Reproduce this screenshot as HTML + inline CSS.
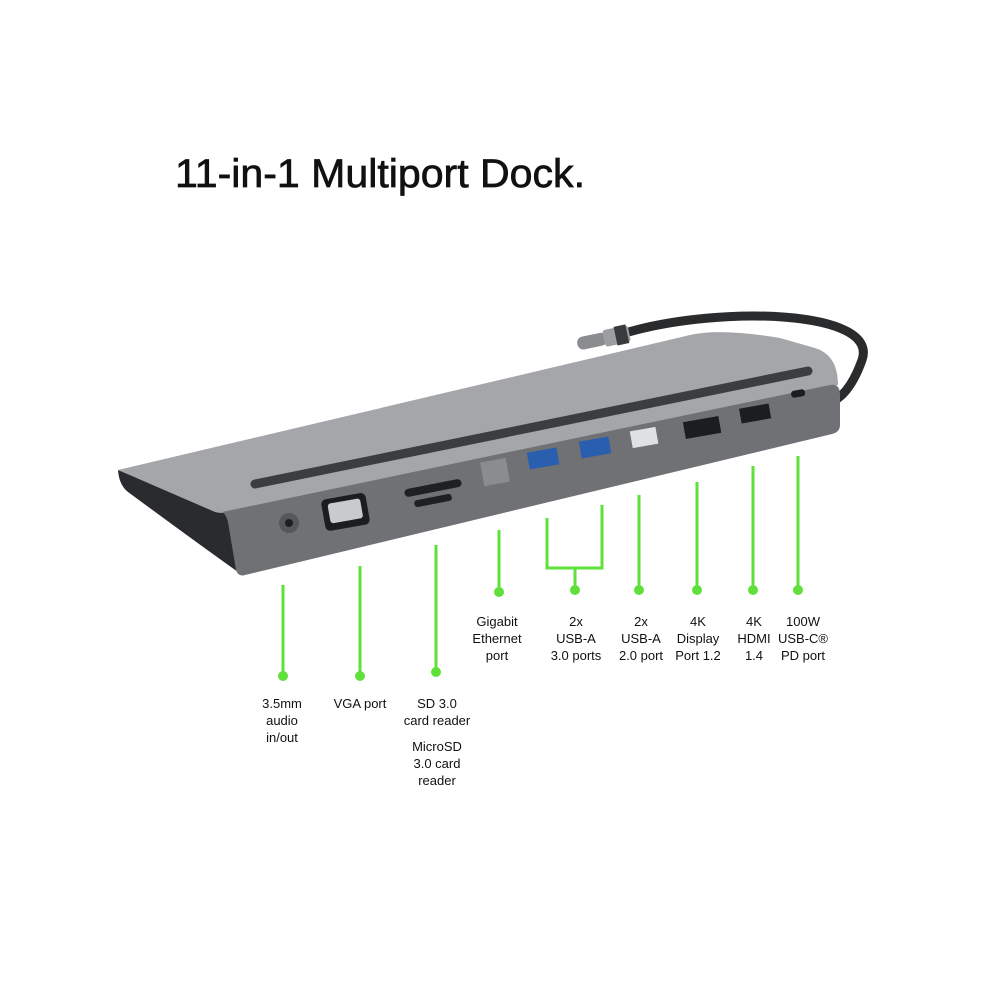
<!DOCTYPE html>
<html><head><style>body{margin:0;background:#fff}svg{display:block}</style></head>
<body>
<svg width="1000" height="1000" viewBox="0 0 1000 1000" xmlns="http://www.w3.org/2000/svg" font-family="Liberation Sans, sans-serif">
<rect width="1000" height="1000" fill="#fff"/>
<text x="175" y="187" font-size="40" fill="#111" stroke="#111" stroke-width="0.7" textLength="410" lengthAdjust="spacingAndGlyphs">11-in-1 Multiport Dock.</text>
<!-- cable -->
<path d="M625 333 C 720 305, 880 310, 862 360 C 855 380, 845 395, 835 400" fill="none" stroke="#2a2b2d" stroke-width="9" stroke-linecap="round"/>
<g transform="rotate(-12 600 340)">
<rect x="577" y="333" width="30" height="13" rx="6" fill="#8a8c90"/>
<rect x="604" y="331" width="26" height="17" rx="3" fill="#9c9ea2"/>
<rect x="616" y="330" width="12" height="19" fill="#3a3b3e"/>
</g>
<!-- left dark wedge -->
<path d="M118 470 L228 512 L238 572 Q200 545 128 492 Q119 485 118 470 Z" fill="#2a2b2e"/>
<!-- top face -->
<path d="M118 470 L690 335 Q720 328 780 338 L815 348 Q838 355 838 385 L230 512 Q222 514 215 512 Z" fill="#a4a6aa"/>
<!-- front face -->
<path d="M222 512 L830 385 Q840 383 840 395 L840 425 Q840 432 832 434 L245 575 Q238 577 236 570 L228 522 Q226 514 222 512 Z" fill="#6f7175"/>
<!-- slot -->
<line x1="255" y1="484" x2="808" y2="371" stroke="#3c3d40" stroke-width="9" stroke-linecap="round"/>
<!-- ports -->
<circle cx="289" cy="523" r="10" fill="#55575b"/><circle cx="289" cy="523" r="4" fill="#1d1e20"/>
<rect x="323" y="496" width="45" height="32" rx="5" fill="#1c1d1f" transform="rotate(-10 345 512)"/>
<rect x="329" y="501" width="33" height="20" rx="3" fill="#c9cacd" transform="rotate(-10 345 512)"/>
<rect x="404" y="484" width="58" height="8" rx="4" fill="#1f2022" transform="rotate(-11 433 488)"/>
<rect x="414" y="497" width="38" height="7" rx="3" fill="#1f2022" transform="rotate(-11 433 500)"/>
<rect x="482" y="460" width="26" height="24" fill="#8a8c90" transform="rotate(-10 495 472)"/>
<rect x="528" y="450" width="30" height="17" fill="#2a5fb0" transform="rotate(-10 543 458)"/>
<rect x="580" y="439" width="30" height="17" fill="#2a5fb0" transform="rotate(-10 595 447)"/>
<rect x="631" y="429" width="26" height="17" fill="#e0e1e3" transform="rotate(-10 644 437)"/>
<rect x="684" y="419" width="36" height="17" fill="#1c1d1f" transform="rotate(-10 702 427)"/>
<rect x="740" y="406" width="30" height="15" fill="#1c1d1f" transform="rotate(-10 755 413)"/>
<rect x="791" y="390" width="14" height="7" rx="3" fill="#1c1d1f" transform="rotate(-10 798 393)"/>
<!-- green connectors -->
<g stroke="#5fe03a" stroke-width="3" fill="none">
<line x1="283" y1="585" x2="283" y2="676"/>
<line x1="360" y1="566" x2="360" y2="676"/>
<line x1="436" y1="545" x2="436" y2="672"/>
<line x1="499" y1="530" x2="499" y2="592"/>
<path d="M547 518 V568 H602 V505"/>
<line x1="575" y1="568" x2="575" y2="590"/>
<line x1="639" y1="495" x2="639" y2="590"/>
<line x1="697" y1="482" x2="697" y2="590"/>
<line x1="753" y1="466" x2="753" y2="590"/>
<line x1="798" y1="456" x2="798" y2="590"/>
</g>
<g fill="#5fe03a">
<circle cx="283" cy="676" r="5"/><circle cx="360" cy="676" r="5"/><circle cx="436" cy="672" r="5"/>
<circle cx="499" cy="592" r="5"/><circle cx="575" cy="590" r="5"/><circle cx="639" cy="590" r="5"/>
<circle cx="697" cy="590" r="5"/><circle cx="753" cy="590" r="5"/><circle cx="798" cy="590" r="5"/>
</g>
<g font-size="13" fill="#111" text-anchor="middle">
<text x="497" y="626">Gigabit</text><text x="497" y="643">Ethernet</text><text x="497" y="660">port</text>
<text x="576" y="626">2x</text><text x="576" y="643">USB-A</text><text x="576" y="660">3.0 ports</text>
<text x="641" y="626">2x</text><text x="641" y="643">USB-A</text><text x="641" y="660">2.0 port</text>
<text x="698" y="626">4K</text><text x="698" y="643">Display</text><text x="698" y="660">Port 1.2</text>
<text x="754" y="626">4K</text><text x="754" y="643">HDMI</text><text x="754" y="660">1.4</text>
<text x="803" y="626">100W</text><text x="803" y="643">USB-C®</text><text x="803" y="660">PD port</text>
<text x="282" y="708">3.5mm</text><text x="282" y="725">audio</text><text x="282" y="742">in/out</text>
<text x="360" y="708">VGA port</text>
<text x="437" y="708">SD 3.0</text><text x="437" y="725">card reader</text>
<text x="437" y="751">MicroSD</text><text x="437" y="768">3.0 card</text><text x="437" y="785">reader</text>
</g>
</svg>
</body></html>
